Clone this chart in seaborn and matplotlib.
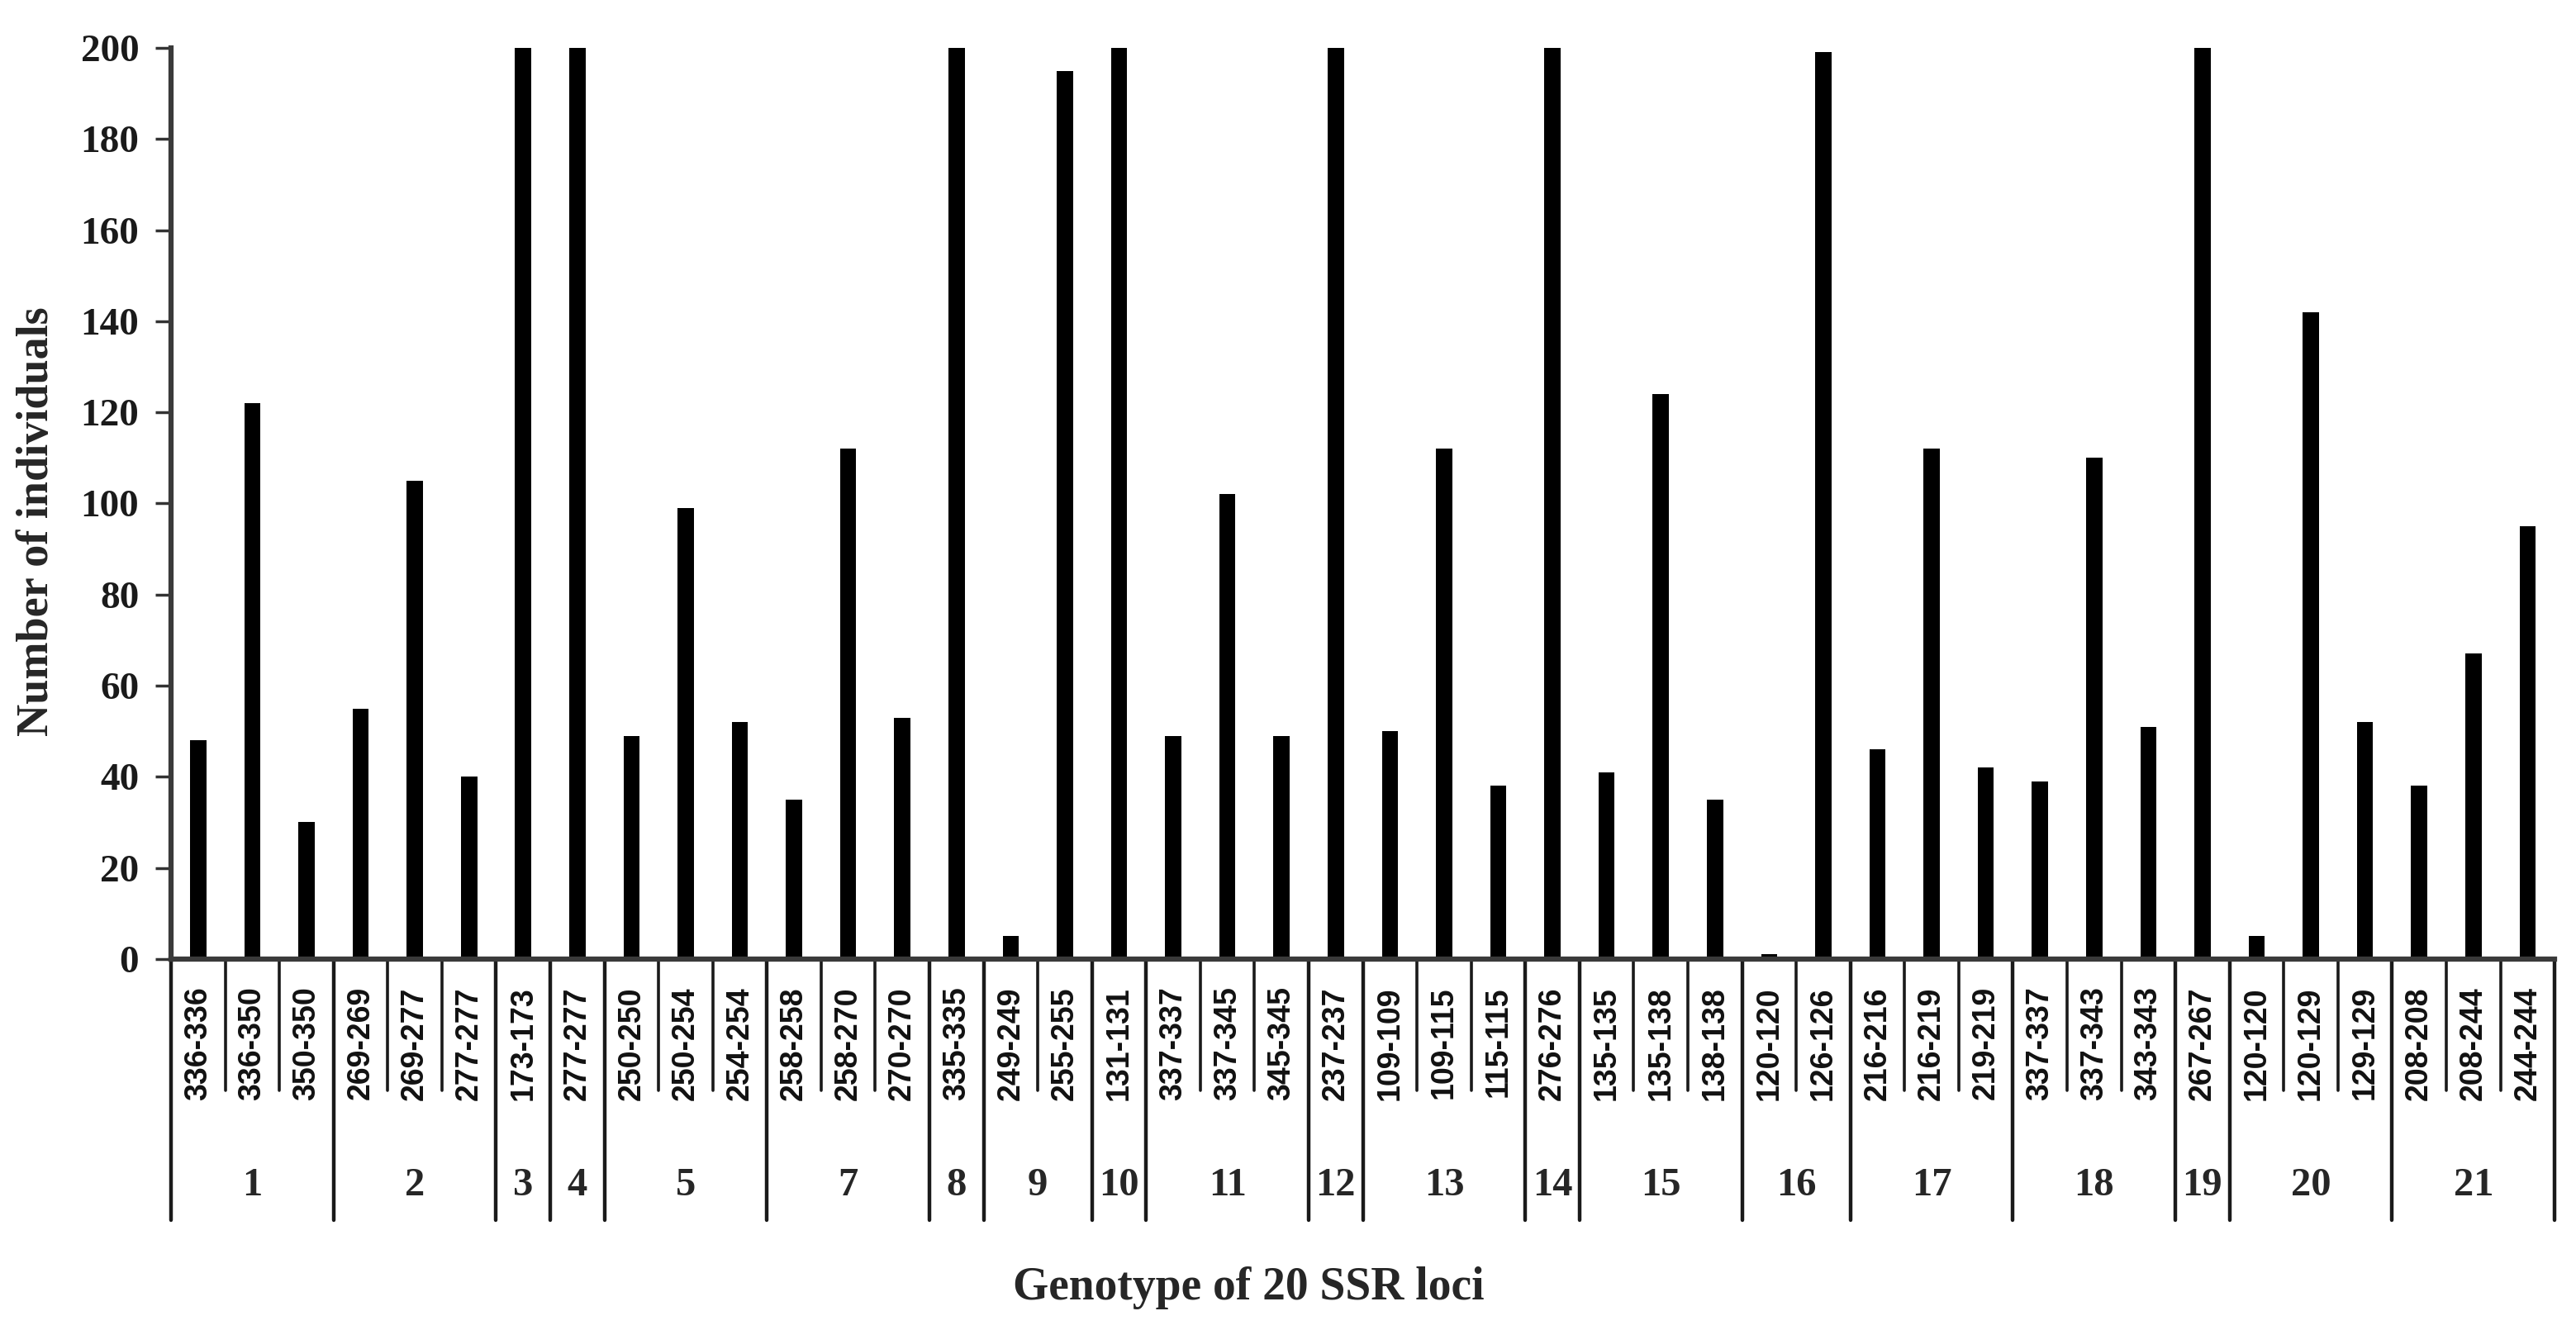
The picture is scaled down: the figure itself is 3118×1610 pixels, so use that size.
import pandas as pd
import numpy as np
import matplotlib
matplotlib.use('Agg')
import matplotlib.pyplot as plt
import matplotlib.transforms as mtransforms
from matplotlib import font_manager
import seaborn as sns

# Data
genotypes = ['336-336', '336-350', '350-350', '269-269', '269-277', '277-277', '173-173', '277-277',
             '250-250', '250-254', '254-254', '258-258', '258-270', '270-270', '335-335', '249-249',
             '255-255', '131-131', '337-337', '337-345', '345-345', '237-237', '109-109', '109-115',
             '115-115', '276-276', '135-135', '135-138', '138-138', '120-120', '126-126', '216-216',
             '216-219', '219-219', '337-337', '337-343', '343-343', '267-267', '120-120', '120-129',
             '129-129', '208-208', '208-244', '244-244']
counts = [48, 122, 30, 55, 105, 40, 200, 200,
          49, 99, 52, 35, 112, 53, 200, 5,
          195, 200, 49, 102, 49, 200, 50, 112,
          38, 200, 41, 124, 35, 1, 199, 46,
          112, 42, 39, 110, 51, 200, 5, 142,
          52, 38, 67, 95]
locus = [1, 1, 1, 2, 2, 2, 3, 4,
         5, 5, 5, 7, 7, 7, 8, 9,
         9, 10, 11, 11, 11, 12, 13, 13,
         13, 14, 15, 15, 15, 16, 16, 17,
         17, 17, 18, 18, 18, 19, 20, 20,
         20, 21, 21, 21]

df = pd.DataFrame({'pos': np.arange(len(genotypes)), 'Genotype': genotypes,
                   'Count': counts, 'Locus': locus})

sns.set_style('white')
serif = ['Liberation Serif', 'DejaVu Serif']

# narrow sans for the genotype labels if available
installed = {f.name for f in font_manager.fontManager.ttflist}
if 'Liberation Sans Narrow' in installed:
    geno_font, geno_size = 'Liberation Sans Narrow', 36
else:
    geno_font, geno_size = 'Liberation Sans', 27

fig = plt.figure(figsize=(31.18, 16.10), dpi=100)
ax = fig.add_axes([0.0664, 0.279, 0.9253, 0.685])

sns.barplot(data=df, x='pos', y='Count', color='black', width=0.30,
            saturation=1, ax=ax, edgecolor='black', linewidth=0)

ax.set_ylim(0, 200)
ax.set_xlim(-0.5, len(genotypes) - 0.5)
ax.set_yticks(range(0, 201, 20))
ax.set_yticklabels([str(v) for v in range(0, 201, 20)], fontfamily=serif,
                   fontsize=34, fontweight='bold', color='#1a1a1a')
ax.tick_params(axis='y', direction='out', length=14, width=2.5, color='#333333', pad=14, left=True)
ax.set_xticks(df['pos'])
ax.set_xticklabels(df['Genotype'], rotation=90, fontfamily=geno_font, fontsize=geno_size,
                   fontweight='bold', va='top', color='#111111')
ax.tick_params(axis='x', length=0, pad=24)

for side in ['top', 'right']:
    ax.spines[side].set_visible(False)
for side in ['left', 'bottom']:
    ax.spines[side].set_linewidth(4.5)
    ax.spines[side].set_color('#3a3a3a')

ax.set_ylabel('')
ax.set_xlabel('')
fig.text(0.0144, 0.608, 'Number of individuals', rotation=90, ha='center', va='center',
         fontfamily=serif, fontsize=39, fontweight='bold')

# Separator lines under the axis and locus numbers
trans = mtransforms.blended_transform_factory(ax.transData, ax.transAxes)
short_y, long_y = -0.144, -0.287
for i in range(len(genotypes) + 1):
    x = i - 0.5
    if i == 0 or i == len(genotypes) or locus[i] != locus[i - 1]:
        ax.plot([x, x], [0, long_y], transform=trans, color='#1a1a1a', lw=3.2, clip_on=False)
    else:
        ax.plot([x, x], [0, short_y], transform=trans, color='#1a1a1a', lw=2.6, clip_on=False)

for loc in pd.unique(df['Locus']):
    sub = df[df['Locus'] == loc]
    xc = sub['pos'].mean()
    ax.text(xc, -0.249, str(loc), transform=trans, ha='center', va='center',
            fontfamily=serif, fontsize=35, fontweight='bold')

ax.text(0.452, -0.3735, 'Genotype of 20 SSR loci', transform=ax.transAxes, ha='center',
        va='baseline', fontfamily=serif, fontsize=40, fontweight='bold')

fig.savefig('out.png', dpi=100, facecolor='white')
